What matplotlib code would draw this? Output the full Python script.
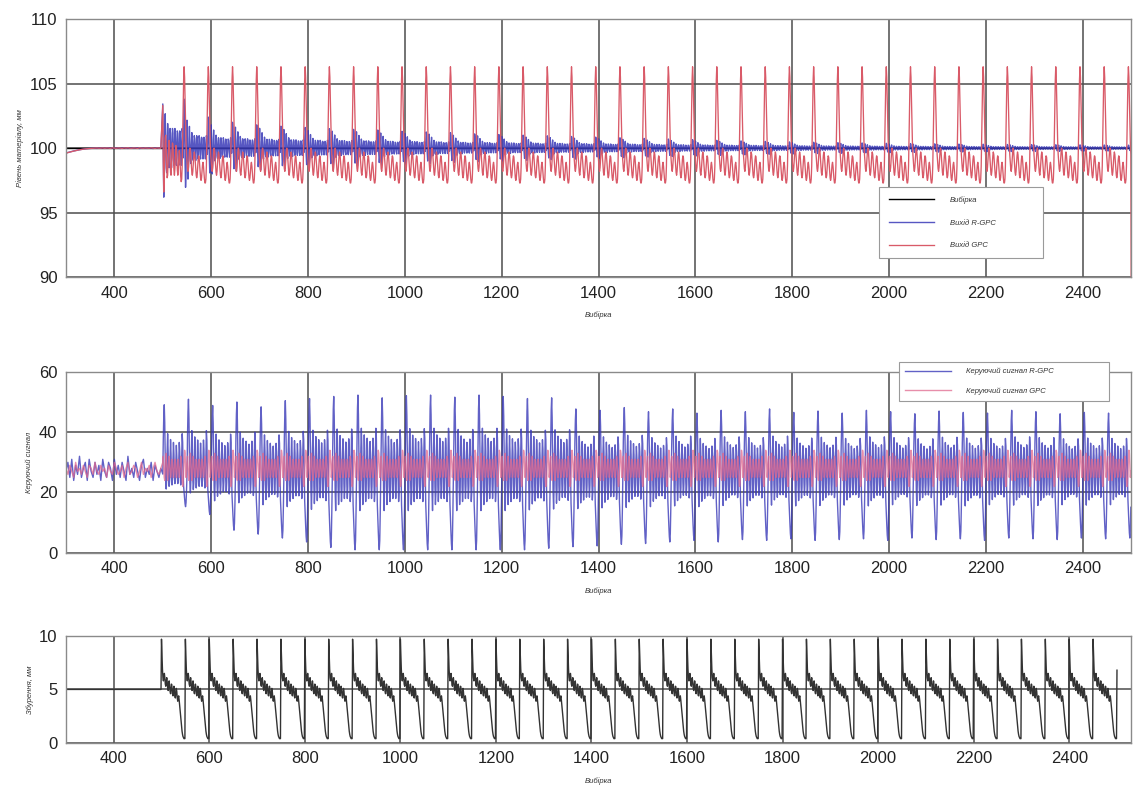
import numpy as np
import matplotlib
matplotlib.use("Agg")
import matplotlib.pyplot as plt

plt.rcParams['font.family'] = ['Liberation Sans', 'DejaVu Sans']

# ---------------- data ----------------
x_start, x_dist, x_end = 300, 500, 2500
period = 50
n_periods = 40
setpoint = 100.0

# pre-disturbance samples (every 4th sample from 300 to 496)
x_pre = np.arange(300, 500, 4)
out_rgpc_pre = [99.62, 99.66, 99.70, 99.74, 99.78, 99.81, 99.84, 99.87, 99.90, 99.92,
                99.94, 99.96, 99.97, 99.98, 99.99, 100.00, 99.98, 100.01, 99.99, 100.02,
                99.98, 100.00, 100.02, 99.99, 100.01, 99.98, 100.02, 100.00, 99.97, 100.01,
                100.03, 99.99, 99.98, 100.02, 100.00, 99.98, 100.03, 100.01, 99.97, 100.00,
                100.02, 99.99, 99.98, 100.03, 100.00, 99.97, 100.01, 100.02, 99.98, 100.00]
out_gpc_pre = [99.60, 99.65, 99.69, 99.73, 99.77, 99.80, 99.84, 99.87, 99.89, 99.92,
               99.94, 99.95, 99.97, 99.98, 99.99, 100.00, 100.01, 99.99, 100.00, 100.01,
               99.99, 100.01, 100.00, 99.98, 100.02, 100.00, 99.99, 100.01, 100.00, 99.98,
               100.01, 100.00, 100.02, 99.99, 99.99, 100.01, 100.00, 99.98, 100.02, 100.00,
               99.99, 100.01, 100.00, 99.99, 100.02, 100.00, 99.98, 100.01, 100.00, 99.99]
u_rgpc_pre = [27, 30, 25, 31, 24, 29, 26, 32, 25, 28, 30, 24, 31, 27, 25, 30, 26, 29, 24, 31,
              27, 25, 30, 28, 24, 31, 26, 29, 25, 30, 27, 24, 32, 26, 28, 25, 30, 27, 24, 29,
              31, 25, 28, 26, 30, 24, 29, 27, 25, 28]
u_gpc_pre = [28, 26, 29, 27, 25, 30, 27, 28, 26, 29, 27, 25, 29, 28, 26, 30, 27, 26, 29, 27,
             28, 25, 29, 27, 26, 30, 28, 26, 27, 29, 25, 28, 30, 26, 27, 29, 28, 25, 27, 30,
             26, 28, 27, 29, 25, 28, 30, 27, 26, 28]
dist_pre = 5.0

# one period of the disturbance (offset 0 = step up)
dist_profile = [9.7, 8.2, 6.9, 6.1, 5.8, 6.2, 6.5, 6.1, 5.5, 5.3,
                5.8, 6.1, 5.7, 5.1, 4.9, 5.4, 5.8, 5.4, 4.8, 4.6,
                5.1, 5.5, 5.2, 4.6, 4.4, 4.9, 5.3, 5.0, 4.4, 4.2,
                4.7, 5.1, 4.8, 4.2, 3.9, 4.2, 4.4, 4.0, 3.5, 3.0,
                2.5, 2.0, 1.5, 1.1, 0.8, 0.6, 0.5, 0.4, 0.4, 0.4]
dist_last = 6.8

# GPC output: steady period and first-period transient (offsets 0..38)
out_gpc_profile = [98.9, 98.4, 98.2, 98.5, 99.1, 99.7, 100.0, 99.8, 99.2, 98.6,
                   98.1, 97.9, 98.2, 98.8, 99.4, 99.7, 99.5, 99.0, 98.4, 97.9,
                   97.7, 97.9, 98.5, 99.1, 99.4, 99.3, 98.8, 98.2, 97.7, 97.5,
                   97.7, 98.2, 98.7, 98.9, 98.6, 98.1, 97.6, 97.3, 97.3, 97.6,
                   98.6, 100.6, 103.0, 105.3, 106.3, 105.5, 103.8, 101.9, 100.4, 99.5]
out_gpc_first = [103.3, 99.0, 96.6, 97.6, 99.4, 100.8, 101.0, 100.0, 98.6, 97.7,
                 97.9, 98.9, 100.1, 100.6, 100.1, 99.0, 98.1, 97.9, 98.6, 99.7,
                 100.4, 100.2, 99.3, 98.3, 97.9, 98.4, 99.4, 100.2, 100.1, 99.2,
                 98.3, 97.9, 98.3, 99.2, 99.8, 99.5, 98.6, 97.8, 97.4]
out_gpc_last = 85.0

# R-GPC output: deviation shape per period and its amplitude in each period
out_rgpc_shape = [0.9, -0.2, -1.0, -0.6, 0.3, 0.7, 0.2, -0.4, -0.5, 0.1,
                  0.5, 0.3, -0.3, -0.4, 0.1, 0.4, 0.3, -0.2, -0.4, 0.0,
                  0.4, 0.3, -0.2, -0.35, 0.05, 0.4, 0.3, -0.2, -0.35, 0.05,
                  0.35, 0.3, -0.2, -0.35, 0.0, 0.35, 0.3, -0.15, -0.35, 0.0,
                  0.4, 0.3, -0.2, 0.3, 1.0, 0.8, -0.3, -0.8, -0.5, 0.2]
out_rgpc_amp = [3.8, 2.4, 2.0, 1.8, 1.7, 1.6, 1.5, 1.45, 1.4, 1.3,
                1.25, 1.2, 1.1, 1.05, 1.0, 0.95, 0.9, 0.85, 0.8, 0.75,
                0.7, 0.65, 0.6, 0.56, 0.52, 0.48, 0.45, 0.42, 0.4, 0.37,
                0.35, 0.33, 0.31, 0.3, 0.28, 0.27, 0.26, 0.25, 0.24, 0.23]

# control signals
u_center = 27.0
u_rgpc_profile = [25, 38, 46, 50, 44, 32, 20, 14, 22, 34,
                  40, 34, 22, 16, 20, 31, 38, 33, 22, 17,
                  21, 31, 37, 33, 23, 18, 22, 31, 36, 32,
                  23, 18, 22, 31, 37, 34, 24, 17, 20, 32,
                  40, 37, 26, 16, 11, 7, 3, 1, 4, 13]
u_rgpc_up = [0.96, 1.04, 0.95, 1.0, 0.93, 1.02, 1.05, 1.08, 1.1, 1.06,
             1.09, 1.1, 1.07, 1.1, 1.08, 1.05, 1.06, 0.9, 0.88, 0.92,
             0.86, 0.9, 0.84, 0.88, 0.86, 0.9, 0.85, 0.87, 0.84, 0.88,
             0.86, 0.83, 0.87, 0.85, 0.84, 0.88, 0.86, 0.83, 0.85, 0.84]
u_rgpc_down = [0.45, 0.55, 0.75, 0.8, 0.85, 0.9, 0.97, 1.0, 1.0, 1.0,
               1.0, 1.0, 1.0, 1.0, 1.0, 0.98, 0.96, 0.95, 0.93, 0.92,
               0.9, 0.88, 0.9, 0.87, 0.88, 0.86, 0.88, 0.87, 0.86, 0.88,
               0.85, 0.87, 0.86, 0.88, 0.85, 0.86, 0.87, 0.85, 0.86, 0.85]
u_gpc_profile = [30, 32, 29, 25, 24, 27, 31, 33, 30, 26,
                 24, 26, 30, 32, 30, 27, 25, 26, 29, 31,
                 30, 27, 25, 26, 29, 31, 30, 27, 25, 26,
                 29, 31, 30, 27, 25, 26, 29, 32, 31, 28,
                 24, 22, 23, 26, 31, 34, 33, 29, 25, 27]

# ---------------- series assembly ----------------
x_main = np.arange(x_dist, x_dist + period * n_periods)

dist_main = np.tile(dist_profile, n_periods)
x_dist_all = np.concatenate([[x_start, x_dist - 1], x_main, [x_end]])
dist_all = np.concatenate([[dist_pre, dist_pre], dist_main, [dist_last]])

gpc_main = np.tile(out_gpc_profile, n_periods)
gpc_main[:len(out_gpc_first)] = out_gpc_first
rgpc_main = np.concatenate([setpoint + a * np.array(out_rgpc_shape) for a in out_rgpc_amp])

x_out = np.concatenate([x_pre, x_main, [x_end]])
out_gpc = np.concatenate([out_gpc_pre, gpc_main, [out_gpc_last]])
out_rgpc = np.concatenate([out_rgpc_pre, rgpc_main, [setpoint]])

prof = np.array(u_rgpc_profile, dtype=float) - u_center
u_rgpc_main = np.concatenate([
    u_center + np.where(prof > 0, prof * up, prof * dn)
    for up, dn in zip(u_rgpc_up, u_rgpc_down)])
u_gpc_main = np.tile(u_gpc_profile, n_periods)
x_u = np.concatenate([x_pre, x_main])
u_rgpc = np.concatenate([u_rgpc_pre, u_rgpc_main])
u_gpc = np.concatenate([u_gpc_pre, u_gpc_main])

# ---------------- figure ----------------
fig = plt.figure(figsize=(11.37, 7.92), dpi=100)
left, width = 0.058, 0.937
ax1 = fig.add_axes([left, 0.650, width, 0.326])
ax2 = fig.add_axes([left, 0.302, width, 0.2285])
ax3 = fig.add_axes([left, 0.062, width, 0.135])

c_blue = '#3a3ab8'
c_red = '#d95a68'
c_pink = '#e0688e'
grid_c = '#4d4d4d'
lab_font = dict(fontsize=5.5, style='italic', color='#333333')


def style(ax, xlim, ylim, yticks):
    ax.set_xlim(*xlim)
    ax.set_ylim(*ylim)
    ax.set_xticks(np.arange(400, 2401, 200))
    ax.set_yticks(yticks)
    ax.grid(True, color=grid_c, linewidth=1.1)
    ax.set_axisbelow(True)
    for s in ax.spines.values():
        s.set_color('#8a8a8a')
        s.set_linewidth(1.0)
    ax.tick_params(length=0, labelsize=12, colors='#222222', pad=6)


# level
ax1.plot([x_start, x_end], [setpoint, setpoint], color='black', lw=1.0, label='Вибірка')
ax1.plot(x_out, out_rgpc, color=c_blue, lw=1.0, alpha=0.85, label='Вихід R-GPC')
ax1.plot(x_out, out_gpc, color=c_red, lw=0.95, label='Вихід GPC')
style(ax1, (300, 2500), (90, 110), [90, 95, 100, 105, 110])
ax1.set_ylabel('Рівень матеріалу, мм', **lab_font)
ax1.set_xlabel('Вибірка', labelpad=8, **lab_font)
leg1 = ax1.legend(loc='lower left', bbox_to_anchor=(0.760, 0.058, 0.161, 0.26),
                  mode='expand', fontsize=5.5, frameon=True, fancybox=False,
                  edgecolor='#9a9a9a', framealpha=1, handlelength=6.0,
                  labelspacing=2.0, borderpad=1.2, handletextpad=2.0)
leg1.get_frame().set_linewidth(0.8)
for t in leg1.get_texts():
    t.set_style('italic')
    t.set_color('#333333')

# control signals
ax2.plot(x_u, u_rgpc, color=c_blue, lw=1.0, alpha=0.8, label='Керуючий сигнал R-GPC')
ax2.plot(x_u, u_gpc, color=c_pink, lw=1.0, alpha=0.75, label='Керуючий сигнал GPC')
style(ax2, (300, 2500), (0, 60), [0, 20, 40, 60])
ax2.set_ylabel('Керуючий сигнал', **lab_font)
ax2.set_xlabel('Вибірка', labelpad=8, **lab_font)
leg2 = ax2.legend(loc='lower left', bbox_to_anchor=(0.778, 0.818, 0.205, 0.25),
                  mode='expand', fontsize=5.5, frameon=True, fancybox=False,
                  edgecolor='#9a9a9a', framealpha=1, handlelength=6.0,
                  labelspacing=1.6, borderpad=0.8, handletextpad=2.0)
leg2.get_frame().set_linewidth(0.8)
for t in leg2.get_texts():
    t.set_style('italic')
    t.set_color('#333333')

# disturbance
ax3.plot(x_dist_all, dist_all, color='#333333', lw=1.0)
style(ax3, (300, 2530), (0, 10), [0, 5, 10])
ax3.set_ylabel('Збурення, мм', **lab_font)
ax3.set_xlabel('Вибірка', labelpad=8, **lab_font)

fig.savefig('out.png', dpi=100)
